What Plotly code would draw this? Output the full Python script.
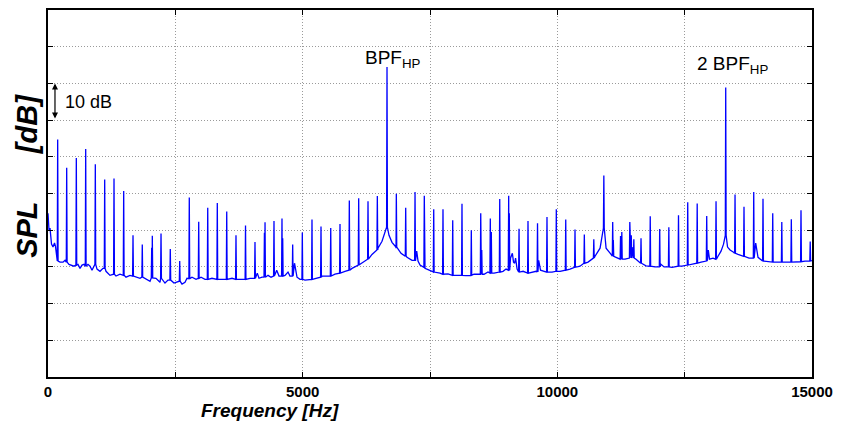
import plotly.graph_objects as go

# ---------------- data ----------------
# broadband floor of the spectrum: frequency [Hz], level [dB]
base_freq = [0, 20, 39, 69, 98, 128, 147, 167, 236, 295, 334, 412, 471, 510, 589, 628, 668, 707,
             785, 825, 864, 962, 1021, 1080, 1139, 1217, 1335, 1414, 1531, 1610, 1728, 1806, 1924,
             2003, 2120, 2199, 2297, 2356, 2474, 2533, 2631, 2690, 2729, 2827, 2906, 3004, 3083,
             3220, 3416, 3613, 3809, 3966, 4109, 4143, 4202, 4320, 4379, 4490, 4536, 4653, 4712,
             4751, 4840, 4889, 4948, 5046, 5144, 5262, 5380, 5497, 5635, 5831, 5969, 6126, 6243,
             6361, 6479, 6558, 6617, 6695, 6754, 6833, 6931, 7049, 7147, 7215, 7239, 7265, 7304,
             7402, 7540, 7697, 7854, 8050, 8207, 8364, 8561, 8639, 8757, 8836, 8934, 8993, 9081,
             9117, 9140, 9161, 9180, 9210, 9328, 9504, 9582, 9634, 9670, 9758, 9896, 10053, 10249,
             10446, 10603, 10740, 10839, 10957, 11055, 11173, 11330, 11438, 11486, 11545, 11623,
             11741, 11918, 12036, 12095, 12252, 12448, 12645, 12822, 12949, 12964, 12988, 13056,
             13155, 13214, 13263, 13342, 13391, 13460, 13548, 13646, 13764, 13842, 13895, 13940,
             14058, 14274, 14568, 14863, 15000]
base_level = [84.6, 80.0, 80.6, 76.2, 75.4, 76.5, 75.6, 72.4, 71.3, 71.3, 71.8, 70.7, 70.5, 70.2,
              70.7, 69.6, 70.5, 70.7, 70.7, 70.2, 69.1, 69.4, 68.8, 69.6, 68.8, 67.7, 67.5, 68.0,
              67.2, 67.7, 67.2, 66.9, 66.6, 66.1, 66.9, 65.8, 65.6, 66.4, 65.6, 65.8, 65.3, 65.8,
              66.9, 67.2, 66.6, 67.2, 66.6, 66.9, 66.6, 66.9, 66.6, 66.9, 68.3, 66.9, 67.2, 67.7,
              67.2, 69.1, 67.5, 67.7, 68.6, 67.5, 71.0, 67.2, 66.6, 66.4, 66.6, 66.9, 67.5, 67.5,
              68.0, 68.8, 69.6, 70.7, 71.8, 73.4, 75.1, 77.0, 79.2, 78.6, 76.7, 75.1, 73.7, 72.6,
              71.8, 71.6, 74.3, 71.6, 70.5, 69.6, 68.8, 68.3, 68.1, 67.7, 67.6, 68.0, 68.0, 68.6,
              68.3, 68.6, 68.8, 69.4, 72.4, 73.7, 71.3, 71.0, 72.4, 69.4, 68.8, 68.6, 68.8, 71.8,
              69.1, 68.6, 68.6, 68.8, 69.4, 70.2, 71.3, 72.9, 75.1, 75.1, 73.4, 72.4, 72.1, 72.4,
              75.4, 72.1, 71.0, 70.3, 70.0, 70.7, 70.0, 69.9, 70.2, 70.7, 71.3, 72.1, 74.6, 72.1,
              72.4, 72.9, 74.3, 76.2, 75.4, 74.6, 74.0, 73.4, 72.9, 72.4, 72.4, 76.5, 72.6, 71.6,
              71.3, 71.3, 71.6, 71.7]

# tonal peaks: frequency [Hz], peak level [dB], level at the foot of the peak [dB]
peak_freq = [190, 367, 556, 740, 929, 1113, 1296, 1486, 1669, 1851, 2036, 2048, 2219, 2401, 2586,
             2774, 2959, 3136, 3324, 3509, 3691, 3878, 4064, 4249, 4261, 4437, 4594, 4608, 4804,
             4993, 5183, 5360, 5551, 5733, 5916, 6100, 6283, 6466, 6656, 6839, 7023, 7206, 7388,
             7573, 7755, 7946, 8128, 8311, 8496, 8516, 8684, 8704, 8869, 9045, 9057, 9248, 9424,
             9611, 9797, 9980, 10165, 10347, 10530, 10716, 10913, 11087, 11099, 11241, 11266,
             11423, 11452, 11502, 11643, 11824, 12010, 12189, 12379, 12560, 12746, 12933, 13116,
             13306, 13489, 13665, 13856, 14038, 14229, 14407, 14594, 14784, 14965]
peak_level = [104.7, 97.0, 99.7, 102.1, 98.0, 93.8, 94.1, 90.7, 78.6, 76.1, 75.2, 78.5, 79.1, 74.9,
              71.6, 88.9, 82.3, 86.1, 87.4, 85.1, 78.6, 81.3, 76.8, 79.3, 82.2, 82.5, 83.2, 77.8,
              76.1, 79.4, 82.9, 81.0, 80.6, 81.7, 88.1, 88.7, 87.9, 89.3, 124.5, 89.9, 86.1, 90.4,
              89.4, 85.7, 85.7, 82.7, 87.2, 80.0, 84.6, 74.6, 83.2, 79.5, 88.5, 89.4, 84.6, 80.4,
              82.5, 81.9, 83.6, 85.7, 82.9, 80.2, 78.8, 77.5, 94.9, 82.2, 77.3, 78.4, 79.5, 82.2,
              78.6, 77.5, 77.8, 83.8, 80.3, 80.8, 84.1, 87.6, 87.3, 83.9, 87.9, 118.9, 89.7, 86.4,
              90.4, 88.6, 84.6, 82.2, 83.0, 85.4, 76.9]
peak_base = [71.6, 71.3, 70.5, 70.2, 70.7, 69.6, 68.0, 67.7, 67.5, 67.2, 67.0, 67.0, 66.9, 66.4,
             66.1, 66.8, 66.9, 66.6, 66.6, 66.6, 66.6, 66.6, 66.9, 67.2, 67.2, 67.5, 67.5, 67.5,
             67.5, 66.6, 66.6, 67.2, 67.5, 68.3, 69.1, 70.5, 72.1, 74.6, 80.8, 75.4, 72.9, 71.8,
             69.9, 68.6, 68.0, 67.7, 67.7, 67.7, 68.0, 68.0, 68.3, 68.3, 68.6, 69.1, 69.1, 68.6,
             68.3, 68.6, 68.6, 68.8, 69.1, 69.9, 71.0, 72.4, 80.6, 72.9, 72.9, 72.1, 72.1, 72.4,
             72.4, 72.4, 71.0, 70.2, 70.0, 70.0, 70.2, 70.5, 71.0, 71.6, 72.1, 78.6, 73.7, 72.9,
             72.4, 71.6, 71.3, 71.3, 71.3, 71.4, 71.6]

x_tick_vals = [0, 2500, 5000, 7500, 10000, 12500, 15000]
x_tick_text = ['0', '', '5000', '', '10000', '', '15000']

# ---------------- build the spectrum polyline ----------------
HALF_W = 8  # half width of a tonal spike in Hz (drawing only)
pts = list(zip(base_freq, base_level))
for f, p, b in zip(peak_freq, peak_level, peak_base):
    pts += [(f - HALF_W, b), (f, p), (f + HALF_W, b)]
pts.sort(key=lambda t: t[0])
xs = [p[0] for p in pts]
ys = [p[1] for p in pts]

SANS = "Liberation Sans, Arial, sans-serif"

fig = go.Figure()
fig.add_trace(go.Scatter(x=xs, y=ys, mode='lines',
                         line=dict(color='#0000ff', width=1.3), hoverinfo='skip'))

# the page body adds an 8 px offset; size/margins compensate for it
fig.update_layout(
    width=833, height=420,
    margin=dict(l=40, r=29, t=2, b=51, autoexpand=False),
    plot_bgcolor='white', paper_bgcolor='white',
    showlegend=False,
)
grid_kw = dict(showgrid=True, gridcolor='#9a9a9a', griddash='1px,2px', gridwidth=1, zeroline=False,
               ticks='inside', ticklen=5, tickwidth=1, tickcolor='black',
               showline=True, linecolor='black', linewidth=1.5, mirror='ticks', automargin=False)
fig.update_xaxes(
    range=[0, 15000], tickvals=x_tick_vals, ticktext=x_tick_text,
    tickfont=dict(family=SANS, size=15, color='black', weight='bold'),
    ticklabelstandoff=0,
    **grid_kw,
)
fig.update_yaxes(
    range=[40, 140], dtick=10, tick0=40, showticklabels=False,
    **grid_kw,
)

# axis titles (placed as in the reference)
fig.add_annotation(x=0.29, y=-0.09, xref='paper', yref='paper', text='Frequency [Hz]',
                   showarrow=False, xanchor='center', yanchor='middle',
                   font=dict(family=SANS, size=19, color='black', weight='bold', style='italic'))
fig.add_annotation(x=-0.0275, y=0.548, xref='paper', yref='paper',
                   text='SPL' + '\u00a0' * 6 + '[dB]', textangle=-90,
                   showarrow=False, xanchor='center', yanchor='middle',
                   font=dict(family=SANS, size=29, color='black', weight='bold', style='italic'))

# 10 dB scale arrow
fig.add_annotation(x=137, y=120, ax=137, ay=110, xref='x', yref='y', axref='x', ayref='y',
                   text='', showarrow=True, arrowhead=2, arrowside='end+start',
                   arrowsize=1, arrowwidth=1.2, arrowcolor='black', standoff=0, startstandoff=0)
fig.add_annotation(x=300, y=115, xref='x', yref='y', text='10 dB', showarrow=False,
                   xanchor='left', yanchor='middle',
                   font=dict(family=SANS, size=18, color='black'))
fig.add_annotation(x=6190, y=122.8, xref='x', yref='y',
                   text='BPF<sub>HP</sub>', showarrow=False,
                   xanchor='left', yanchor='bottom',
                   font=dict(family=SANS, size=19, color='black'))
fig.add_annotation(x=12700, y=121.2, xref='x', yref='y',
                   text='2 BPF<sub>HP</sub>', showarrow=False,
                   xanchor='left', yanchor='bottom',
                   font=dict(family=SANS, size=19, color='black'))

fig.write_html("out.html")
